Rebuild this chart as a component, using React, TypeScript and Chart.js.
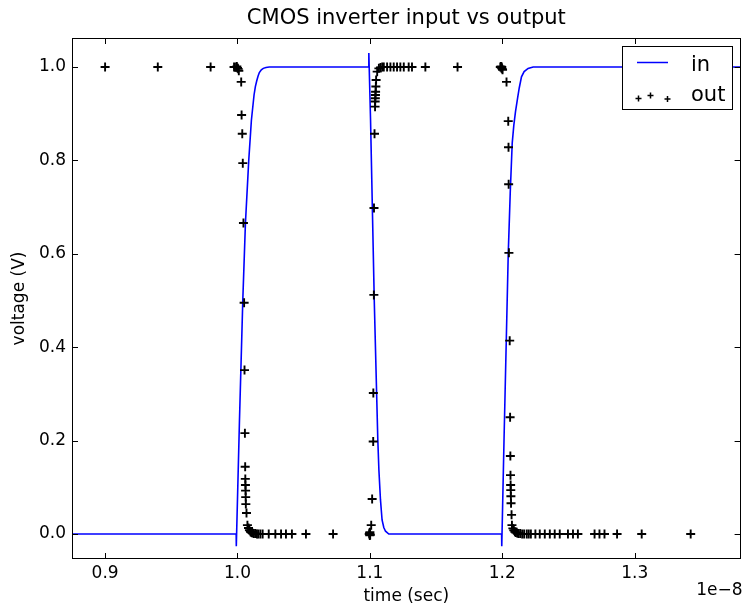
import React, { useEffect, useRef } from "react";
import { Chart, registerables } from "chart.js";

Chart.register(...registerables);

const TITLE = "CMOS inverter input vs output";
const X_LABEL = "time (sec)";
const Y_LABEL = "voltage (V)";
const X_OFFSET_LABEL = "1e\u22128";
const IN_LABEL = "in";
const OUT_LABEL = "out";

const X_TICKS = [0.9, 1.0, 1.1, 1.2, 1.3];
const Y_TICKS = [0.0, 0.2, 0.4, 0.6, 0.8, 1.0];
const X_MIN = 0.875;
const X_MAX = 1.38;
const Y_MIN = -0.0535;
const Y_MAX = 1.062;

// input waveform, time in units of 1e-8 s
const IN_T = [
  0.875, 0.999, 0.9991, 1.0015, 1.004, 1.006, 1.0085, 1.0105, 1.0125, 1.0135, 1.0145, 1.0155, 1.0165,
  1.018, 1.0195, 1.0215, 1.024,
  1.099, 1.0992, 1.1005, 1.1033, 1.106, 1.1068, 1.108, 1.1092, 1.1105, 1.1118, 1.1143,
  1.1995, 1.1996, 1.2013, 1.2045, 1.206, 1.2075, 1.2087, 1.21, 1.2115, 1.2128, 1.2145, 1.2165, 1.2195, 1.2233, 1.38,
];
const IN_V = [
  0, 0, -0.026, 0.244, 0.5, 0.666, 0.8, 0.886, 0.94, 0.958, 0.97, 0.98, 0.988,
  0.994, 0.997, 0.999, 1.0,
  1.0, 1.03, 0.886, 0.5, 0.2, 0.137, 0.073, 0.03, 0.014, 0.006, 0.0,
  0, -0.026, 0.2, 0.6, 0.73, 0.837, 0.875, 0.905, 0.932, 0.955, 0.979, 0.99, 0.997, 1.0, 1.0,
];

// output samples, time in units of 1e-8 s
const OUT_T = [
  0.9, 0.9398, 0.9797, 0.9974, 0.9989, 0.9995, 1.0, 1.0005, 1.001,
  1.0028, 1.0031, 1.0036, 1.004, 1.0045, 1.005, 1.0053, 1.0056, 1.0058, 1.0059, 1.006, 1.0061, 1.0062,
  1.0063, 1.0068, 1.0075, 1.0083, 1.009, 1.0098, 1.0105, 1.0113, 1.0124, 1.0135, 1.0147, 1.0158, 1.0173,
  1.019, 1.0236, 1.0286, 1.0329, 1.0366, 1.0411, 1.0517, 1.0722,
  1.0995, 1.0997, 1.0999, 1.1, 1.1001, 1.1002,
  1.101, 1.1017, 1.1025, 1.1026, 1.103, 1.1031, 1.1035, 1.1039, 1.104, 1.1041, 1.1042, 1.1043, 1.1045,
  1.1047, 1.1055, 1.1068, 1.108, 1.1093, 1.1105, 1.113, 1.1155, 1.118, 1.1205, 1.123, 1.1256, 1.1293,
  1.1318, 1.1419, 1.1662,
  1.1985, 1.199, 1.1993, 1.1996, 1.1999, 1.2002,
  1.2032, 1.2045, 1.2047, 1.2048, 1.205, 1.2056, 1.2059, 1.2061, 1.2062, 1.2063, 1.2064, 1.2065, 1.2066,
  1.207, 1.2073, 1.208, 1.2087, 1.2095, 1.2102, 1.2112, 1.2122, 1.2135, 1.215, 1.2165, 1.2185, 1.22,
  1.2216, 1.225, 1.2283, 1.2321, 1.2359, 1.2396, 1.2434, 1.2496, 1.2534, 1.2571, 1.2697, 1.2734, 1.2772,
  1.2867, 1.3053, 1.3423,
];
const OUT_V = [
  1.0, 1.0, 1.0, 1.0, 1.0, 1.001, 0.998, 0.996, 0.992,
  0.968, 0.897, 0.857, 0.794, 0.666, 0.495, 0.351, 0.216, 0.144, 0.118, 0.105, 0.093, 0.079,
  0.064, 0.045, 0.019, 0.013, 0.008, 0.005, 0.003, 0.002, 0.001, 0.001, 0.0, 0.0, 0.0,
  0, 0, 0, 0, 0, 0, 0, 0,
  0.0, 0.002, -0.003, 0.004, 0.0, -0.002,
  0.019, 0.075, 0.198, 0.302, 0.512, 0.698, 0.857, 0.915, 0.926, 0.933, 0.94, 0.947, 0.958,
  0.972, 0.99, 0.997, 0.999, 1.0, 1.0, 1.0, 1.0, 1.0, 1.0, 1.0, 1.0, 1.0,
  1.0, 1.0, 1.0,
  1.0, 1.001, 0.998, 1.0, 0.996, 0.994,
  0.968, 0.884, 0.828, 0.749, 0.602, 0.414, 0.25, 0.167, 0.126, 0.105, 0.094, 0.081, 0.066,
  0.041, 0.019, 0.012, 0.008, 0.005, 0.003, 0.002, 0.001, 0.001, 0.0, 0.0, 0.0, 0.0,
  0, 0, 0, 0, 0, 0, 0, 0, 0, 0, 0, 0, 0,
  0, 0, 0,
];

const FONT = "'DejaVu Sans', sans-serif";
const LINE_COLOR = "#0000ff";
const MARK_COLOR = "#000000";

const framePlugin = {
  id: "frameTicks",
  afterDatasetsDraw(chart: any) {
    const { ctx, chartArea: a, scales } = chart;
    const L = 6;
    ctx.save();
    ctx.strokeStyle = "#000";
    ctx.lineWidth = 1;
    ctx.beginPath();
    X_TICKS.forEach((v) => {
      const x = Math.round(scales.x.getPixelForValue(v)) + 0.5;
      ctx.moveTo(x, a.bottom);
      ctx.lineTo(x, a.bottom - L);
      ctx.moveTo(x, a.top);
      ctx.lineTo(x, a.top + L);
    });
    Y_TICKS.forEach((v) => {
      const y = Math.round(scales.y.getPixelForValue(v)) + 0.5;
      ctx.moveTo(a.left, y);
      ctx.lineTo(a.left + L, y);
      ctx.moveTo(a.right, y);
      ctx.lineTo(a.right - L, y);
    });
    ctx.stroke();
    ctx.strokeRect(Math.round(a.left) + 0.5, Math.round(a.top) + 0.5, Math.round(a.right - a.left) - 1, Math.round(a.bottom - a.top) - 1);
    ctx.restore();
  },
  afterDraw(chart: any) {
    const { ctx, chartArea: a } = chart;
    ctx.save();
    // title centred over the plot area
    ctx.fillStyle = "#000";
    ctx.font = `21px ${FONT}`;
    ctx.textAlign = "center";
    ctx.textBaseline = "middle";
    ctx.fillText(TITLE, (a.left + a.right) / 2, 19);
    // offset text
    ctx.font = `17px ${FONT}`;
    ctx.textAlign = "right";
    ctx.textBaseline = "middle";
    ctx.fillText(X_OFFSET_LABEL, a.right + 2, 591);
    // legend
    const bx = 622.5, by = 46.5, bw = 110, bh = 63;
    ctx.fillStyle = "#fff";
    ctx.fillRect(bx, by, bw, bh);
    ctx.strokeStyle = "#000";
    ctx.lineWidth = 1;
    ctx.strokeRect(bx, by, bw, bh);
    ctx.strokeStyle = LINE_COLOR;
    ctx.lineWidth = 1.5;
    ctx.beginPath();
    ctx.moveTo(637, 62.5);
    ctx.lineTo(668, 62.5);
    ctx.stroke();
    ctx.strokeStyle = MARK_COLOR;
    ctx.lineWidth = 1.5;
    const marks = [[638.5, 98.5], [650.5, 95.5], [667.5, 99]];
    ctx.beginPath();
    marks.forEach(([mx, my]) => {
      ctx.moveTo(mx - 3, my);
      ctx.lineTo(mx + 3, my);
      ctx.moveTo(mx, my - 3);
      ctx.lineTo(mx, my + 3);
    });
    ctx.stroke();
    ctx.fillStyle = "#000";
    ctx.font = `21px ${FONT}`;
    ctx.textAlign = "left";
    ctx.textBaseline = "alphabetic";
    ctx.fillText(IN_LABEL, 691, 71);
    ctx.fillText(OUT_LABEL, 691, 101);
    ctx.restore();
  },
};

export default function App() {
  const ref = useRef<HTMLCanvasElement | null>(null);
  useEffect(() => {
    if (!ref.current) return;
    const chart = new Chart(ref.current, {
      type: "scatter",
      data: {
        datasets: [
          {
            label: OUT_LABEL,
            data: OUT_T.map((t, i) => ({ x: t, y: OUT_V[i] })),
            pointStyle: "cross",
            pointRadius: 4.5,
            pointHoverRadius: 4.5,
            borderColor: MARK_COLOR,
            backgroundColor: MARK_COLOR,
            borderWidth: 1.9,
            showLine: false,
            order: 0,
          } as any,
          {
            label: IN_LABEL,
            data: IN_T.map((t, i) => ({ x: t, y: IN_V[i] })),
            showLine: true,
            borderColor: LINE_COLOR,
            backgroundColor: LINE_COLOR,
            borderWidth: 1.6,
            pointRadius: 0,
            pointHoverRadius: 0,
            tension: 0,
            fill: false,
            order: 1,
          } as any,
        ],
      },
      options: {
        animation: false,
        responsive: false,
        devicePixelRatio: 1,
        layout: { padding: { left: 0, right: 4, top: 38, bottom: 0 } },
        plugins: {
          legend: { display: false },
          tooltip: { enabled: false },
          title: { display: false },
        },
        scales: {
          x: {
            type: "linear",
            min: X_MIN,
            max: X_MAX,
            afterBuildTicks: (s: any) => {
              s.ticks = X_TICKS.map((v) => ({ value: v }));
            },
            afterFit: (s: any) => {
              s.height = 47;
            },
            ticks: {
              callback: (v: any) => Number(v).toFixed(1),
              color: "#000",
              font: { family: FONT, size: 17 },
              padding: 4,
              maxRotation: 0,
              autoSkip: false,
            },
            grid: { display: false, drawTicks: false, tickLength: 0 },
            border: { display: false },
            title: {
              display: true,
              text: X_LABEL,
              color: "#000",
              font: { family: FONT, size: 17, lineHeight: 1.0 },
              padding: { top: 0, bottom: 0.5 },
            },
          },
          y: {
            type: "linear",
            min: Y_MIN,
            max: Y_MAX,
            afterBuildTicks: (s: any) => {
              s.ticks = Y_TICKS.map((v) => ({ value: v }));
            },
            afterFit: (s: any) => {
              s.width = 72;
            },
            ticks: {
              callback: (v: any) => Number(v).toFixed(1),
              color: "#000",
              font: { family: FONT, size: 17 },
              padding: 6,
              autoSkip: false,
            },
            grid: { display: false, drawTicks: false, tickLength: 0 },
            border: { display: false },
            title: {
              display: true,
              text: Y_LABEL,
              color: "#000",
              font: { family: FONT, size: 17 },
              padding: { top: 9.8, bottom: 0 },
            },
          },
        },
      } as any,
      plugins: [framePlugin],
    });
    return () => chart.destroy();
  }, []);
  return (
    <div style={{ position: "absolute", left: 0, top: 0, width: 747, height: 606, background: "#fff" }}>
      <canvas ref={ref} width={747} height={606} style={{ display: "block", width: 747, height: 606 }} />
    </div>
  );
}
